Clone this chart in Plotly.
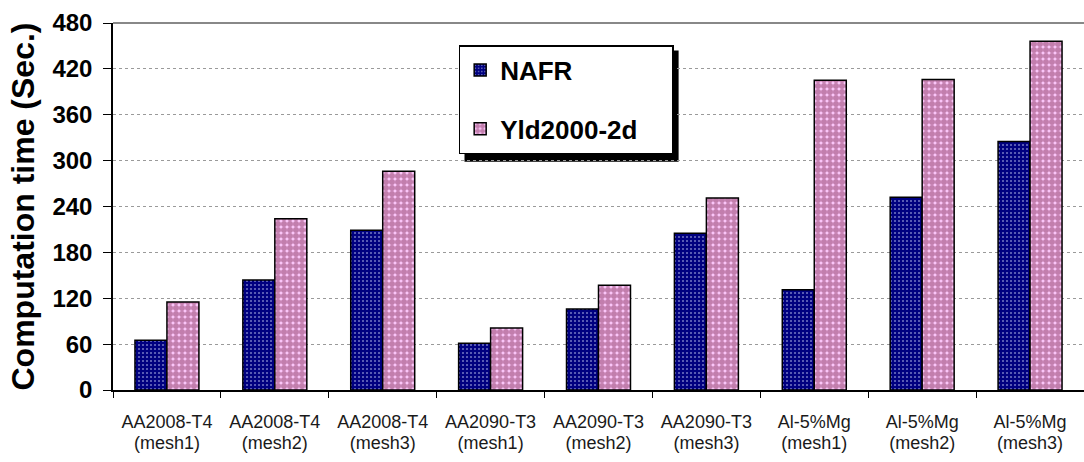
import plotly.graph_objects as go

cat_line1 = ["AA2008-T4", "AA2008-T4", "AA2008-T4",
             "AA2090-T3", "AA2090-T3", "AA2090-T3",
             "Al-5%Mg", "Al-5%Mg", "Al-5%Mg"]
cat_line2 = ["(mesh1)", "(mesh2)", "(mesh3)"] * 3
categories = [a + " " + b for a, b in zip(cat_line1, cat_line2)]
nafr = [65, 144, 209, 61, 106, 205, 131, 252, 325]
yld2000 = [115, 224, 286, 81, 137, 251, 405, 406, 456]
y_ticks = [0, 60, 120, 180, 240, 300, 360, 420, 480]

FONT = "Arial, Liberation Sans, sans-serif"

fig = go.Figure()
fig.add_trace(go.Bar(
    x=categories, y=nafr, name="NAFR", legendgroup="a",
    marker=dict(color="#000080", line=dict(color="black", width=1.5),
                pattern=dict(shape=".", fgcolor="#d8e0ff", bgcolor="#000080",
                             size=4, solidity=0.22, fillmode="overlay")),
))
fig.add_trace(go.Bar(
    x=categories, y=yld2000, name="Yld2000-2d&nbsp;&nbsp;&nbsp;&nbsp;", legendgroup="b",
    marker=dict(color="#FFCCFF", line=dict(color="black", width=1.5),
                pattern=dict(shape=".", fgcolor="#85305c", bgcolor="#FFCCFF",
                             size=6, solidity=0.78, fillmode="overlay")),
))
# invisible trace to activate the second label row
fig.add_trace(go.Scatter(x=[0], y=[0], xaxis="x2", mode="markers",
                         marker=dict(opacity=0), showlegend=False, hoverinfo="skip"))

fig.update_layout(
    width=1084, height=462,
    margin=dict(l=113, r=0, t=23, b=72, autoexpand=False),
    paper_bgcolor="white", plot_bgcolor="white",
    barmode="group", bargap=0.407, bargroupgap=0,
    font=dict(family=FONT, color="black"),
    showlegend=True,
    legend=dict(x=0.356, y=0.94, xanchor="left", yanchor="top",
                bgcolor="white", bordercolor="black", borderwidth=1.5,
                font=dict(size=26, family=FONT, color="black", weight="bold"),
                traceorder="grouped", tracegroupgap=22,
                itemwidth=30),
    xaxis=dict(type="category", showline=True, linecolor="black", linewidth=1.5,
               ticks="outside", tickson="boundaries", ticklen=6, tickcolor="black",
               tickvals=categories, ticktext=cat_line1,
               tickfont=dict(size=18, family=FONT, color="#1a1a1a"),
               ticklabelstandoff=15,
               showgrid=False, automargin=False),
    xaxis2=dict(overlaying="x", anchor="y", side="bottom", range=[-0.5, 8.5],
                tickmode="array", tickvals=list(range(len(cat_line2))), ticktext=cat_line2,
                tickfont=dict(size=18, family=FONT, color="#1a1a1a"),
                ticks="", ticklabelstandoff=40, showline=False, showgrid=False,
                zeroline=False, automargin=False),
    yaxis=dict(range=[0, 480], tickvals=y_ticks, showline=True, linecolor="black",
               linewidth=1.5, ticks="outside", ticklen=8, tickcolor="black",
               tickfont=dict(size=24, family=FONT, color="black", weight="bold"),
               ticklabelstandoff=6,
               showgrid=True, gridcolor="#9a9a9a", griddash="dot", gridwidth=1,
               zeroline=False, automargin=False,
               title=dict(text="Computation time (Sec.)",
                          font=dict(size=32, family=FONT, color="black", weight="bold"),
                          standoff=8)),
)

# legend drop shadow
fig.add_shape(type="rect", xref="paper", yref="paper", layer="below",
              x0=0.362, x1=0.5825, y0=0.622, y1=0.925,
              fillcolor="black", line=dict(width=0))
# top border of plot area
fig.add_shape(type="line", xref="paper", yref="paper", x0=0, x1=1, y0=1, y1=1,
              line=dict(color="#888888", width=2))

fig.write_html("out.html", config={"displayModeBar": False},
               post_script="document.body.style.margin='0';")
